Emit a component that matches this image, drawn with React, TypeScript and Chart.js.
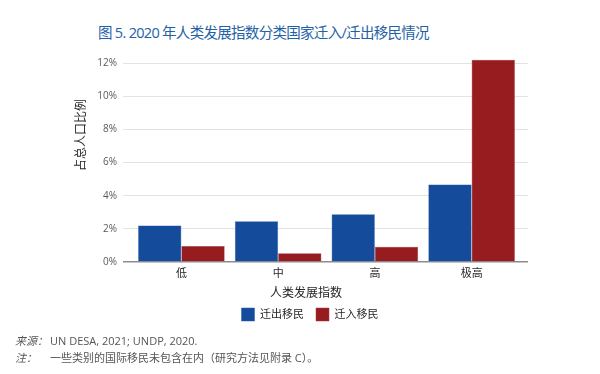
import React, { useEffect, useRef } from "react";
import { Chart, registerables } from "chart.js";

Chart.register(...registerables);

const categories = ["低", "中", "高", "极高"];
const emigrants = [2.2, 2.45, 2.88, 4.68];
const immigrants = [0.96, 0.53, 0.92, 12.2];
const seriesNames = ["迁出移民", "迁入移民"];
const yTicks = [0, 2, 4, 6, 8, 10, 12];
const xTitle = "人类发展指数";
const yTitle = "占总人口比例";
const chartTitle = "图 5. 2020 年人类发展指数分类国家迁入/迁出移民情况";

const FONT = "'Open Sans', 'Noto Sans CJK SC', sans-serif";

const axisTitles = {
  id: "axisTitles",
  afterDraw(chart: any) {
    const { ctx } = chart;
    ctx.save();
    ctx.fillStyle = "#262626";
    ctx.font = "12px 'Noto Sans CJK SC', sans-serif";
    ctx.textAlign = "center";
    ctx.textBaseline = "middle";
    ctx.fillText(xTitle, 306, 292);
    ctx.translate(80, 135);
    ctx.rotate(-Math.PI / 2);
    ctx.fillText(yTitle, 0, 0);
    ctx.restore();
  },
};

const gridColor = (c: any) => (c.tick && c.tick.value === 0 ? "#8c8c8c" : "#e3e3e3");
const gridWidth = (c: any) => (c.tick && c.tick.value === 0 ? 1.5 : 1);

export default function App() {
  const ref = useRef<HTMLCanvasElement>(null);
  useEffect(() => {
    const chart = new Chart(ref.current as HTMLCanvasElement, {
      type: "bar",
      data: {
        labels: categories,
        datasets: [
          {
            label: seriesNames[0],
            data: emigrants,
            backgroundColor: "#144b9b",
            borderColor: "#2a5fae",
            borderWidth: 0.5,
            clip: false as any,
          },
          {
            label: seriesNames[1],
            data: immigrants,
            backgroundColor: "#961c20",
            borderColor: "#a8343a",
            borderWidth: 0.5,
            clip: false as any,
          },
        ],
      },
      options: {
        responsive: false,
        animation: false,
        datasets: { bar: { categoryPercentage: 0.895, barPercentage: 1 } },
        layout: { padding: { left: 92, right: 72, top: 63, bottom: 43 } },
        plugins: {
          legend: {
            position: "bottom",
            labels: {
              boxWidth: 13,
              boxHeight: 13,
              padding: 12,
              color: "#262626",
              font: { size: 11, family: FONT },
            },
          },
          tooltip: { enabled: false },
        },
        scales: {
          x: {
            grid: { display: false, drawTicks: false },
            border: { display: false },
            ticks: { color: "#262626", padding: 5, font: { size: 11, family: FONT } },
            afterFit(scale: any) {
              scale.height = 34;
            },
          },
          y: {
            min: 0,
            max: 12,
            afterBuildTicks(scale: any) {
              scale.ticks = yTicks.map((v) => ({ value: v }));
            },
            grid: { color: gridColor, lineWidth: gridWidth, drawTicks: true, tickLength: 10 },
            border: { display: false },
            ticks: {
              color: "#595959",
              padding: 6,
              font: { size: 10, family: FONT },
              callback: (v: any) => v + "%",
            },
            afterFit(scale: any) {
              scale.width = 41;
            },
          },
          yRight: {
            position: "right",
            min: 0,
            max: 12,
            afterBuildTicks(scale: any) {
              scale.ticks = yTicks.map((v) => ({ value: v }));
            },
            grid: { color: gridColor, lineWidth: gridWidth, drawTicks: true, tickLength: 8, drawOnChartArea: false },
            border: { display: false },
            ticks: { display: false },
            afterFit(scale: any) {
              scale.width = 8;
            },
          },
        },
      },
      plugins: [axisTitles],
    });
    return () => chart.destroy();
  }, []);

  return (
    <div style={{ position: "absolute", left: 0, top: 0, width: 600, height: 374, background: "#fff" }}>
      <div
        style={{
          position: "absolute",
          left: 98,
          top: 22,
          whiteSpace: "nowrap",
          fontFamily: FONT,
          fontSize: 14.5,
          letterSpacing: -0.7,
          lineHeight: "22px",
          color: "#2361a6",
        }}
      >
        {chartTitle}
      </div>
      <canvas ref={ref} width={600} height={374} style={{ position: "absolute", left: 0, top: 0 }} />
      <div style={{ position: "absolute", left: 15, top: 332, fontSize: 11, lineHeight: "16px", color: "#555", fontFamily: FONT, whiteSpace: "nowrap" }}>
        <span style={{ fontStyle: "italic", fontFamily: "'Noto Sans CJK SC', serif", display: "inline-block", width: 35 }}>来源：</span>
        <span>UN DESA, 2021; UNDP, 2020.</span>
      </div>
      <div style={{ position: "absolute", left: 15, top: 349, fontSize: 11, lineHeight: "16px", color: "#555", fontFamily: FONT, whiteSpace: "nowrap" }}>
        <span style={{ fontStyle: "italic", fontFamily: "'Noto Sans CJK SC', serif", display: "inline-block", width: 35 }}>注：</span>
        <span>一些类别的国际移民未包含在内（研究方法见附录 C）。</span>
      </div>
    </div>
  );
}
